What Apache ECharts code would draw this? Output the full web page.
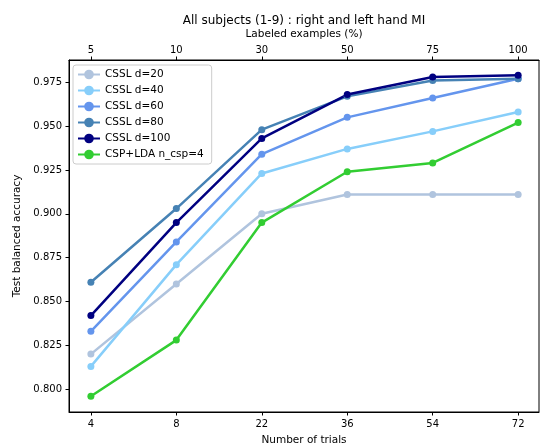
<!DOCTYPE html>
<html>
<head>
<meta charset="utf-8">
<script src="https://cdn.jsdelivr.net/npm/echarts@6/dist/echarts.min.js"></script>
<style>
  html, body { margin: 0; padding: 0; background: #fff; }
  #chart { width: 542px; height: 446px; }
</style>
</head>
<body>
<div id="chart"></div>
<script>
// Nhãn trục
const trials = ["4", "8", "22", "36", "54", "72"];
const labeledPct = ["5", "10", "30", "50", "75", "100"];
const yTicks = [0.800, 0.825, 0.850, 0.875, 0.900, 0.925, 0.950, 0.975];

// Giá trị
const cssl20 = [0.820, 0.860, 0.900, 0.911, 0.911, 0.911];
const cssl40 = [0.813, 0.871, 0.923, 0.937, 0.947, 0.958];
const cssl60 = [0.833, 0.884, 0.934, 0.955, 0.966, 0.977];
const cssl80 = [0.861, 0.903, 0.948, 0.967, 0.976, 0.977];
const cssl100 = [0.842, 0.895, 0.943, 0.968, 0.978, 0.979];
const cspLda = [0.796, 0.828, 0.895, 0.924, 0.929, 0.952];

const seriesDefs = [
    { name: "CSSL d=20", color: "#b0c4de", data: cssl20 },
    { name: "CSSL d=40", color: "#87cefa", data: cssl40 },
    { name: "CSSL d=60", color: "#6495ed", data: cssl60 },
    { name: "CSSL d=80", color: "#4682b4", data: cssl80 },
    { name: "CSSL d=100", color: "#000080", data: cssl100 },
    { name: "CSP+LDA n_csp=4", color: "#32cd32", data: cspLda }
];

const font = "DejaVu Sans";
const idx = trials.map((_, i) => i);

function xAxisCfg(pos, labels, name, nameGap, margin) {
    return {
        type: "value",
        position: pos,
        min: -0.256,
        max: 5.244,
        name: name,
        nameLocation: "middle",
        nameGap: nameGap,
        nameTextStyle: { fontFamily: font, fontSize: 10.5, color: "#000" },
        axisLine: { show: true, onZero: false, lineStyle: { color: "#000", width: 1 } },
        axisTick: { show: true, length: 3.5, customValues: idx, lineStyle: { color: "#000" } },
        axisLabel: {
            customValues: idx,
            margin: margin,
            fontFamily: font, fontSize: 10, color: "#000",
            formatter: v => labels[Math.round(v)]
        },
        splitLine: { show: false }
    };
}

const chart = echarts.init(document.getElementById("chart"));
chart.setOption({
    animation: false,
    title: {
        text: "All subjects (1-9) : right and left hand MI",
        left: 299,
        textAlign: "center",
        top: 10,
        textStyle: { fontFamily: font, fontSize: 12, fontWeight: "normal", color: "#000" }
    },
    grid: {
        left: 69, right: 3, top: 60, bottom: 34,
        outerBoundsMode: "none",
        containLabel: false,
        show: true, borderColor: "#000", borderWidth: 1
    },
    legend: {
        orient: "vertical",
        left: 73,
        top: 65,
        padding: [4, 8, 4, 4],
        itemWidth: 22,
        itemHeight: 12,
        itemGap: 5,
        borderColor: "#cccccc",
        borderWidth: 1,
        borderRadius: 3,
        backgroundColor: "rgba(255,255,255,0.8)",
        textStyle: { fontFamily: font, fontSize: 10.5, color: "#000" },
        data: seriesDefs.map(s => s.name)
    },
    xAxis: [
        xAxisCfg("bottom", trials, "Number of trials", 23, 7),
        xAxisCfg("top", labeledPct, "Labeled examples (%)", 16, 5)
    ],
    yAxis: {
        type: "value",
        min: 0.787,
        max: 0.9877,
        name: "Test balanced accuracy",
        nameLocation: "middle",
        nameGap: 39,
        nameTextStyle: { fontFamily: font, fontSize: 10.5, color: "#000" },
        axisLine: { show: true, onZero: false, lineStyle: { color: "#000" } },
        axisTick: { show: true, length: 3.5, customValues: yTicks, lineStyle: { color: "#000" } },
        axisLabel: {
            customValues: yTicks,
            margin: 7,
            fontFamily: font, fontSize: 10, color: "#000",
            formatter: v => v.toFixed(3)
        },
        splitLine: { show: false }
    },
    series: seriesDefs.map(s => ({
        name: s.name,
        type: "line",
        xAxisIndex: 0,
        data: s.data.map((v, i) => [i, v]),
        symbol: "circle",
        symbolSize: 7,
        lineStyle: { width: 2.5, color: s.color },
        itemStyle: { color: s.color }
    }))
});
</script>
</body>
</html>
